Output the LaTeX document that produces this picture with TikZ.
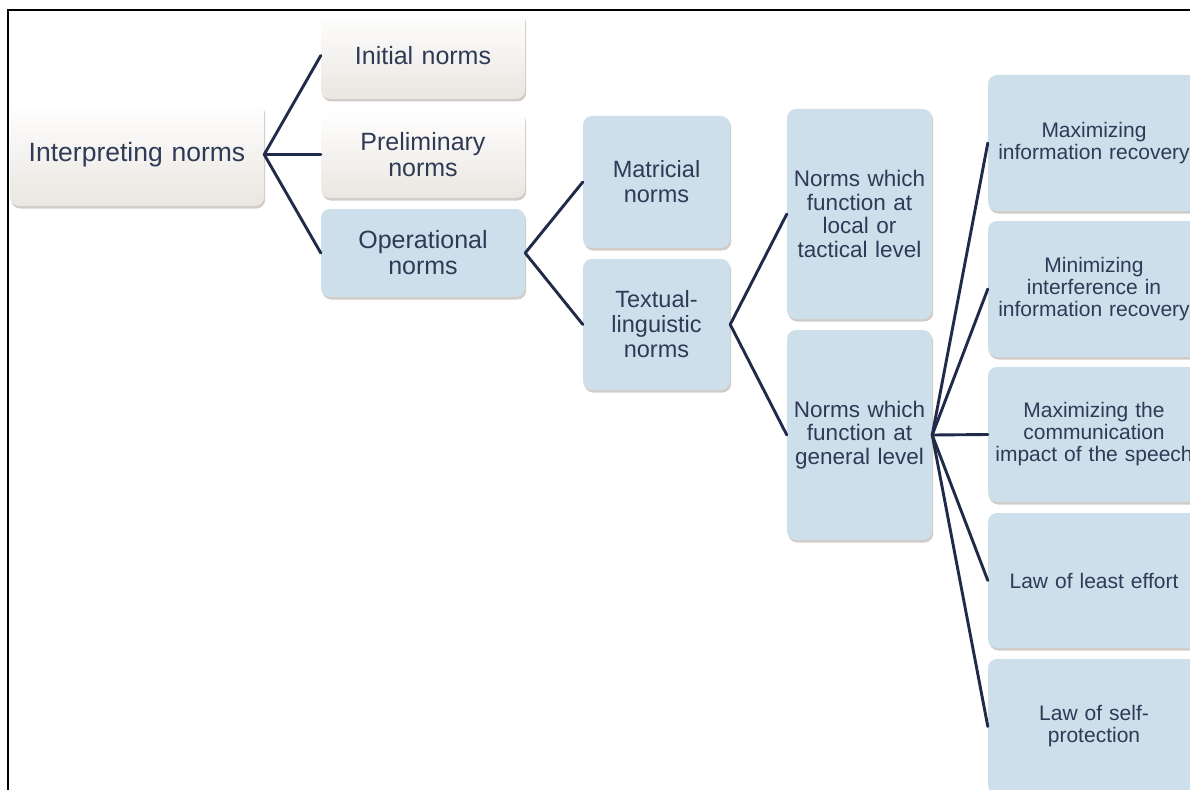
\documentclass[tikz,border=0pt]{standalone}
\usepackage{fontspec}
\setmainfont{Liberation Sans}
\usetikzlibrary{shadows}
\definecolor{txt}{HTML}{2E3A56}
\definecolor{ln}{HTML}{1F2B48}
\definecolor{bluefill}{HTML}{CCDFEA}
\definecolor{beige}{HTML}{EAE6E1}
\definecolor{shad}{HTML}{9C8F86}
\tikzset{
  box/.style={rounded corners=9pt, inner sep=0pt, align=center, text=txt,
    drop shadow={shadow xshift=1.2pt, shadow yshift=-2.5pt, opacity=0.45, fill=shad}},
  bluebox/.style={box, fill=bluefill},
  whitebox/.style={box, top color=white, middle color=white, bottom color=beige},
  conn/.style={draw=ln, line width=2.9pt, line cap=round},
  fa/.style={font=\fontsize{26.5}{28}\selectfont},
  fb/.style={font=\fontsize{25}{26}\selectfont},
  fc/.style={font=\fontsize{23.5}{25}\selectfont},
  fd/.style={font=\fontsize{22.5}{23.5}\selectfont},
  fe/.style={font=\fontsize{21}{22}\selectfont},
  lvb/.style={minimum width=204pt, text width=200pt, minimum height=87pt},
  lvc/.style={minimum width=147pt, text width=145pt, minimum height=132pt},
  lvd/.style={minimum width=145pt, text width=143pt, minimum height=210pt},
  lve/.style={minimum width=212pt, text width=210pt, minimum height=136pt},
}
\begin{document}
\begin{tikzpicture}[x=1pt,y=-1pt]
\clip (0,0) rectangle (1190,789);
\fill[white] (0,0) rectangle (1190,789);
% level 1
\node[whitebox,fa,minimum width=254pt,text width=250pt,minimum height=103pt] (int) at (137,154.5) {Interpreting norms};
% level 2
\node[whitebox,fb,lvb] (ini) at (423,55.5) {Initial norms};
\node[whitebox,fb,lvb] (pre) at (423,154.5) {Preliminary\\norms};
\node[bluebox,fb,lvb,minimum height=88pt] (ope) at (423,253) {Operational\\norms};
% level 3
\node[bluebox,fc,lvc] (mat) at (656.5,182) {Matricial\\norms};
\node[bluebox,fc,lvc,minimum height=131pt] (tex) at (656.5,324.5) {Textual-\\linguistic\\norms};
% level 4
\node[bluebox,fd,lvd] (loc) at (859.5,214) {Norms which\\function at\\local or\\tactical level};
\node[bluebox,fd,lvd] (gen) at (859.5,435) {Norms which\\function at\\general level};
% level 5
\node[bluebox,fe,lve] (ra) at (1094,143) {Maximizing\\information recovery};
\node[bluebox,fe,lve] (rb) at (1094,289) {Minimizing\\interference in\\information recovery};
\node[bluebox,fe,lve,minimum height=135pt] (rc) at (1094,434.5) {Maximizing the\\communication\\impact of the speech};
\node[bluebox,fe,lve,minimum height=135pt] (rd) at (1094,580.5) {Law of least effort};
\node[bluebox,fe,lve,minimum height=135pt] (re) at (1094,726.5) {Law of self-\\protection};
% connectors
\draw[conn] (int.east) -- (ini.west);
\draw[conn] (int.east) -- (pre.west);
\draw[conn] (int.east) -- (ope.west);
\draw[conn] (ope.east) -- (mat.west);
\draw[conn] (ope.east) -- (tex.west);
\draw[conn] (tex.east) -- (loc.west);
\draw[conn] (tex.east) -- (gen.west);
\draw[conn] (gen.east) -- (ra.west);
\draw[conn] (gen.east) -- (rb.west);
\draw[conn] (gen.east) -- (rc.west);
\draw[conn] (gen.east) -- (rd.west);
\draw[conn] (gen.east) -- (re.west);
% frame
\draw[black, line width=2pt] (8,800) -- (8,10) -- (1200,10);
\end{tikzpicture}
\end{document}
